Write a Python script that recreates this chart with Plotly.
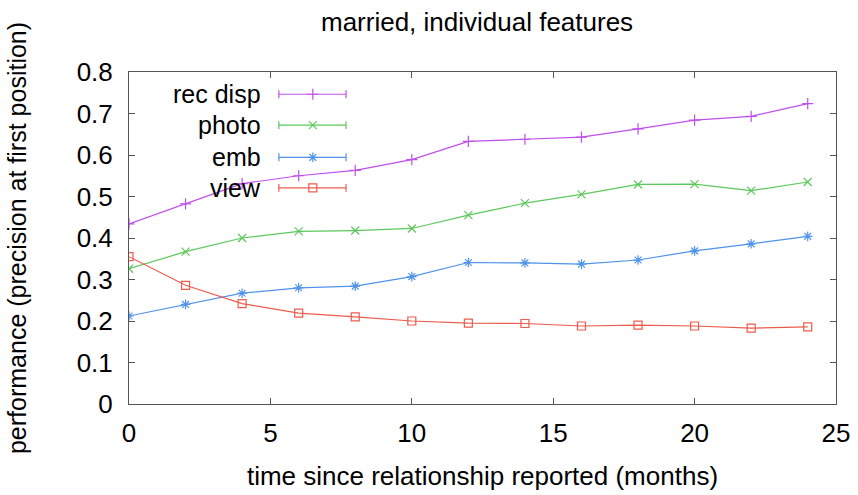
import plotly.graph_objects as go

months = [0, 2, 4, 6, 8, 10, 12, 14, 16, 18, 20, 22, 24]
rec_disp = [0.434, 0.482, 0.531, 0.550, 0.563, 0.589, 0.633, 0.638, 0.643, 0.663, 0.684, 0.693, 0.724]
photo = [0.326, 0.367, 0.400, 0.416, 0.418, 0.423, 0.455, 0.484, 0.505, 0.529, 0.530, 0.514, 0.535]
emb = [0.212, 0.240, 0.267, 0.280, 0.284, 0.307, 0.341, 0.340, 0.337, 0.347, 0.369, 0.386, 0.404]
view = [0.355, 0.286, 0.242, 0.219, 0.210, 0.200, 0.195, 0.194, 0.188, 0.190, 0.188, 0.183, 0.186]

series_names = ["rec disp", "photo", "emb", "view"]
series_values = [rec_disp, photo, emb, view]
colors = ["#bf4fec", "#5cc85c", "#4f93ea", "#ec5c4c"]
symbols = ["cross-thin", "x-thin", "asterisk", "square-open"]

x_ticks = [0, 5, 10, 15, 20, 25]
y_ticks = [0, 0.1, 0.2, 0.3, 0.4, 0.5, 0.6, 0.7, 0.8]

FONT = "Liberation Sans, Arial, sans-serif"

fig = go.Figure()
for name, vals, col, sym in zip(series_names, series_values, colors, symbols):
    fig.add_trace(go.Scatter(
        x=months, y=vals, mode="lines+markers", name=name,
        line=dict(color=col, width=1.2),
        marker=dict(symbol=sym, size=8, color=col, line=dict(color=col, width=1.2)),
        showlegend=False,
    ))

# manual gnuplot-style legend (text, then sample)
leg_text_x = 0.190
leg_x0, leg_x1, leg_xm = 0.212, 0.307, 0.260
leg_rows = [0.933, 0.840, 0.743, 0.651]
for name, col, sym, ly in zip(series_names, colors, symbols, leg_rows):
    fig.add_annotation(x=leg_text_x, y=ly, xref="paper", yref="paper",
                       text=name, showarrow=False, xanchor="right", yanchor="middle",
                       font=dict(family=FONT, size=25, color="black"))
    fig.add_shape(type="line", xref="paper", yref="paper", x0=leg_x0, x1=leg_x1, y0=ly, y1=ly,
                  line=dict(color=col, width=1.2))
    for cx in (leg_x0, leg_x1):
        fig.add_shape(type="line", xref="paper", yref="paper", x0=cx, x1=cx,
                      y0=ly - 0.012, y1=ly + 0.012, line=dict(color=col, width=1.2))
    fig.add_trace(go.Scatter(
        x=[leg_xm], y=[ly], xaxis="x2", yaxis="y2", mode="markers", showlegend=False,
        marker=dict(symbol=sym, size=8, color=col, line=dict(color=col, width=1.2)),
        hoverinfo="skip",
    ))

axis_common = dict(
    showgrid=False, zeroline=False, showline=True, linecolor="#555555", linewidth=1,
    mirror="ticks", ticks="inside", ticklen=6, tickcolor="#555555", tickwidth=1,
    tickfont=dict(family=FONT, size=26, color="black"), automargin=False,
)

fig.update_layout(
    width=858, height=495,
    margin=dict(l=129, r=22, t=72, b=91),
    paper_bgcolor="white", plot_bgcolor="white",
    title=dict(text="married, individual features", x=0.556, xanchor="center",
               y=0.955, yanchor="middle",
               font=dict(family=FONT, size=26, color="black")),
    xaxis=dict(range=[0, 25], tickvals=x_ticks, ticktext=[str(v) for v in x_ticks],
               ticklabelstandoff=6,
               title=dict(text="time since relationship reported (months)", standoff=19,
                          font=dict(family=FONT, size=26, color="black")),
               **axis_common),
    yaxis=dict(range=[0, 0.8], tickvals=y_ticks,
               ticktext=["0"] + [f"{v:.1f}" for v in y_ticks[1:]],
               ticklabelstandoff=10,
               title=dict(text="performance (precision at first position)", standoff=42,
                          font=dict(family=FONT, size=25, color="black")),
               **axis_common),
    xaxis2=dict(range=[0, 1], overlaying="x", visible=False, fixedrange=True),
    yaxis2=dict(range=[0, 1], overlaying="y", visible=False, fixedrange=True),
    showlegend=False,
)

fig.write_html("out.html")
